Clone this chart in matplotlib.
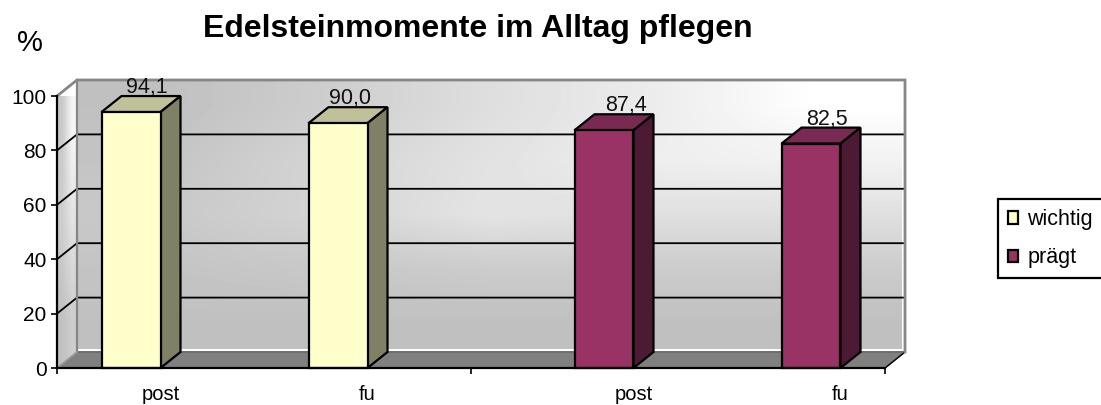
import numpy as np
import matplotlib
matplotlib.use('Agg')
import matplotlib.pyplot as plt
from matplotlib.patches import Patch, Polygon

plt.rcParams['font.family'] = ['Liberation Sans', 'DejaVu Sans']

title = 'Edelsteinmomente im Alltag pflegen'
categories = ['post', 'fu', 'post', 'fu']
wichtig = [94.1, 90.0, np.nan, np.nan]
praegt = [np.nan, np.nan, 87.4, 82.5]
value_labels = ['94,1', '90,0', '87,4', '82,5']
label_shift_px = [16, 12, 22, 16]

# background shading, grey levels by row (top to bottom)
wall_shade = [[192, 205, 222, 236, 255],
              [196, 212, 226, 238, 242],
              [200, 212, 228, 224, 224],
              [196, 200, 204, 204, 204],
              [192, 192, 192, 192, 192]]
side_shade = [[200, 245],
              [205, 225],
              [192, 205]]

W, H = 1101, 405
fig = plt.figure(figsize=(W / 100, H / 100), dpi=100)
ax = fig.add_axes([57 / W, (H - 368) / H, 828 / W, 272 / H])
ax.patch.set_visible(False)

# 3d depth in data units
dx = 20 / 207
dy = 16 / 2.72
lw = 1.6

ax.imshow(np.array(wall_shade), cmap='gray', vmin=0, vmax=255, aspect='auto',
          interpolation='bilinear', extent=(dx, 4 + dx - 4 / 207, dy + 1.1, 100 + dy),
          zorder=0, clip_on=False)
side = ax.imshow(np.array(side_shade), cmap='gray', vmin=0, vmax=255, aspect='auto',
                 interpolation='bilinear', extent=(0, dx, 0, 100 + dy), zorder=0)
side_clip = Polygon([(0, 0), (dx, dy), (dx, 100 + dy), (0, 100)], transform=ax.transData,
                    fill=False, edgecolor='none')
ax.add_patch(side_clip)
side.set_clip_path(side_clip)
ax.set_xlim(0, 4)
ax.set_ylim(0, 100)

# floor
ax.fill([0, 4, 4 + dx, dx], [0, 0, dy, dy], color='#808080', zorder=1, clip_on=False)
ax.plot([dx, 4 + dx], [dy, dy], color='#6e6e6e', lw=1.4, zorder=1.1, clip_on=False)
ax.plot([4, 4 + dx], [0, dy], color='black', lw=1, zorder=1.1, clip_on=False)

# grid on the walls
for v in [20, 40, 60, 80]:
    ax.plot([0, dx, 4 + dx], [v, v + dy, v + dy], color='black', lw=1.3, zorder=1.2, clip_on=False)

# wall borders
ax.plot([0, dx, 4 + dx, 4 + dx], [100, 100 + dy, 100 + dy, dy], color='#868686', lw=2,
        zorder=1.3, clip_on=False, solid_joinstyle='miter')
ax.plot([dx, dx], [dy, 100 + dy], color='#868686', lw=1.6, zorder=1.3, clip_on=False)
ax.plot([0, dx], [0, dy], color='#a0a0a0', lw=1, zorder=1.3, clip_on=False)

x = np.arange(4) + 0.5
width = 0.285


def draw_bars(xpos, vals, front, top, right):
    bars = ax.bar(xpos, vals, width, align='edge', color=front, edgecolor='black', lw=lw,
                  zorder=4, clip_on=False)
    for b in bars:
        x0, w, h = b.get_x(), b.get_width(), b.get_height()
        if np.isnan(h):
            continue
        ax.fill([x0, x0 + w, x0 + w + dx, x0 + dx], [h, h, h + dy, h + dy], facecolor=top,
                edgecolor='black', lw=lw, zorder=3, clip_on=False)
        ax.fill([x0 + w, x0 + w + dx, x0 + w + dx, x0 + w], [0, dy, h + dy, h], facecolor=right,
                edgecolor='black', lw=lw, zorder=3, clip_on=False)


draw_bars(x - width, wichtig, '#FFFFCC', '#C0C09A', '#808066')
draw_bars(x, praegt, '#993366', '#7A2952', '#4D1A33')

# value labels sit behind the bar tops
tops = np.nan_to_num(wichtig) + np.nan_to_num(praegt)
left_edges = [x[0] - width, x[1] - width, x[2], x[3]]
for i in range(4):
    ax.annotate(value_labels[i], (left_edges[i] + width / 2, tops[i] + dy),
                xytext=(label_shift_px[i] * 0.72, 2), textcoords='offset points',
                ha='center', va='baseline', fontsize=15.5, color='#111111', zorder=2,
                annotation_clip=False)

# axes
for s in ['top', 'right']:
    ax.spines[s].set_visible(False)
for s in ['left', 'bottom']:
    ax.spines[s].set_linewidth(lw)
    ax.spines[s].set_zorder(5)
ax.set_yticks([0, 20, 40, 60, 80, 100])
ax.tick_params(axis='y', length=4.5, width=1.2, pad=3, labelsize=15)
ax.set_xticks([0, 2, 4])
ax.set_xticklabels(['', '', ''])
ax.tick_params(axis='x', length=4.5, width=1.2)
ax.set_xticks([x[0], x[1], x[2] + width, x[3] + width], minor=True)
ax.set_xticklabels(categories, minor=True)
ax.tick_params(axis='x', which='minor', length=0, pad=12.5, labelsize=14.5)

fig.text(478 / W, 1 - 29 / H, title, ha='center', va='center', fontsize=23, fontweight='bold')
fig.text(30 / W, 1 - 43 / H, '%', ha='center', va='center', fontsize=21)

handles = [Patch(facecolor='#FFFFCC', edgecolor='black', lw=lw, label='wichtig'),
           Patch(facecolor='#993366', edgecolor='black', lw=lw, label='prägt')]
fig.legend(handles=handles, loc='lower left', mode='expand',
           bbox_to_anchor=(998 / W, (H - 278) / H, 115 / W, 76 / H), fontsize=15.5, frameon=True,
           fancybox=False, edgecolor='black', framealpha=1, borderpad=0.45, labelspacing=0.8,
           handlelength=0.5, handleheight=0.5, handletextpad=0.42, borderaxespad=0)
fig.legends[0].get_frame().set_linewidth(lw)

fig.savefig('out.png', dpi=100)
